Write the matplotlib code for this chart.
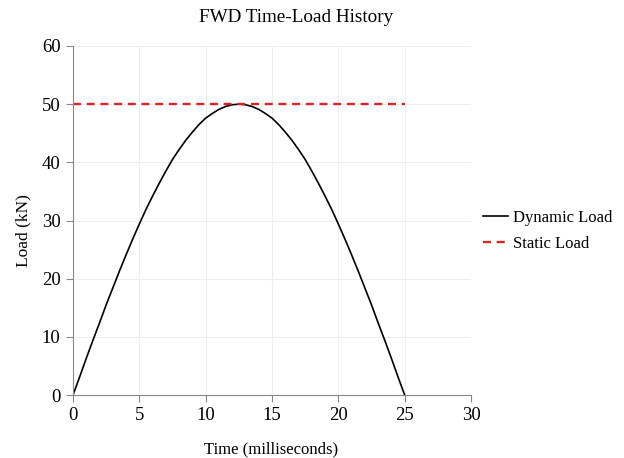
import matplotlib
matplotlib.use("Agg")
import matplotlib.pyplot as plt

# values (ms, kN)
time_ms = [0, 0.5, 1, 1.5, 2, 2.5, 3, 3.5, 4, 4.5, 5, 5.5, 6, 6.5, 7, 7.5, 8, 8.5, 9, 9.5,
           10, 10.5, 11, 11.5, 12, 12.5, 13, 13.5, 14, 14.5, 15, 15.5, 16, 16.5, 17, 17.5,
           18, 18.5, 19, 19.5, 20, 20.5, 21, 21.5, 22, 22.5, 23, 23.5, 24, 24.5, 25]
dynamic_load = [0, 3.1, 6.3, 9.4, 12.4, 15.5, 18.4, 21.3, 24.1, 26.8, 29.4, 31.9, 34.2, 36.4,
                38.5, 40.5, 42.2, 43.8, 45.2, 46.5, 47.6, 48.4, 49.1, 49.6, 49.9, 50.0,
                49.9, 49.6, 49.1, 48.4, 47.6, 46.5, 45.2, 43.8, 42.2, 40.5, 38.5, 36.4,
                34.2, 31.9, 29.4, 26.8, 24.1, 21.3, 18.4, 15.5, 12.4, 9.4, 6.3, 3.1, 0]
static_time = [0, 25]
static_load = [50, 50]

plt.rcParams["font.family"] = ["Liberation Serif", "DejaVu Serif"]

W, H = 624, 458
fig = plt.figure(figsize=(W / 100, H / 100), dpi=100)
ax = fig.add_axes([73 / W, 1 - 395 / H, (471 - 73) / W, (395 - 46) / H])

ax.plot(time_ms, dynamic_load, color="black", lw=1.2, label="Dynamic Load")
ax.plot(static_time, static_load, color="#d62728", lw=1.7, ls=(0, (3.4, 2.4)), label="Static Load")

ax.set_xlim(0, 30)
ax.set_ylim(0, 60)
ax.set_xticks(range(0, 31, 5))
ax.set_yticks(range(0, 61, 10))
ax.grid(color="#eeeeee", lw=0.8)
ax.set_axisbelow(True)
for side in ("top", "right"):
    ax.spines[side].set_visible(False)
for side in ("left", "bottom"):
    ax.spines[side].set_color("#888888")
ax.tick_params(colors="#888888", labelcolor="black", labelsize=13.5, length=5, pad=4)

fig.text(296 / W, 1 - 17 / H, "FWD Time-Load History", fontsize=13.8, ha="center", va="center")
fig.text(271 / W, 1 - 449 / H, "Time (milliseconds)", fontsize=12, ha="center", va="center")
fig.text(23 / W, 1 - 231 / H, "Load (kN)", fontsize=12.5, ha="center", va="center", rotation=90)

ax.legend(loc="center left", bbox_to_anchor=(483 / W, 1 - 230.5 / H), bbox_transform=fig.transFigure,
          frameon=False, fontsize=12, handlelength=1.5, handletextpad=0.28,
          borderaxespad=0, borderpad=0, labelspacing=0.6)

fig.savefig("out.png", dpi=100)
